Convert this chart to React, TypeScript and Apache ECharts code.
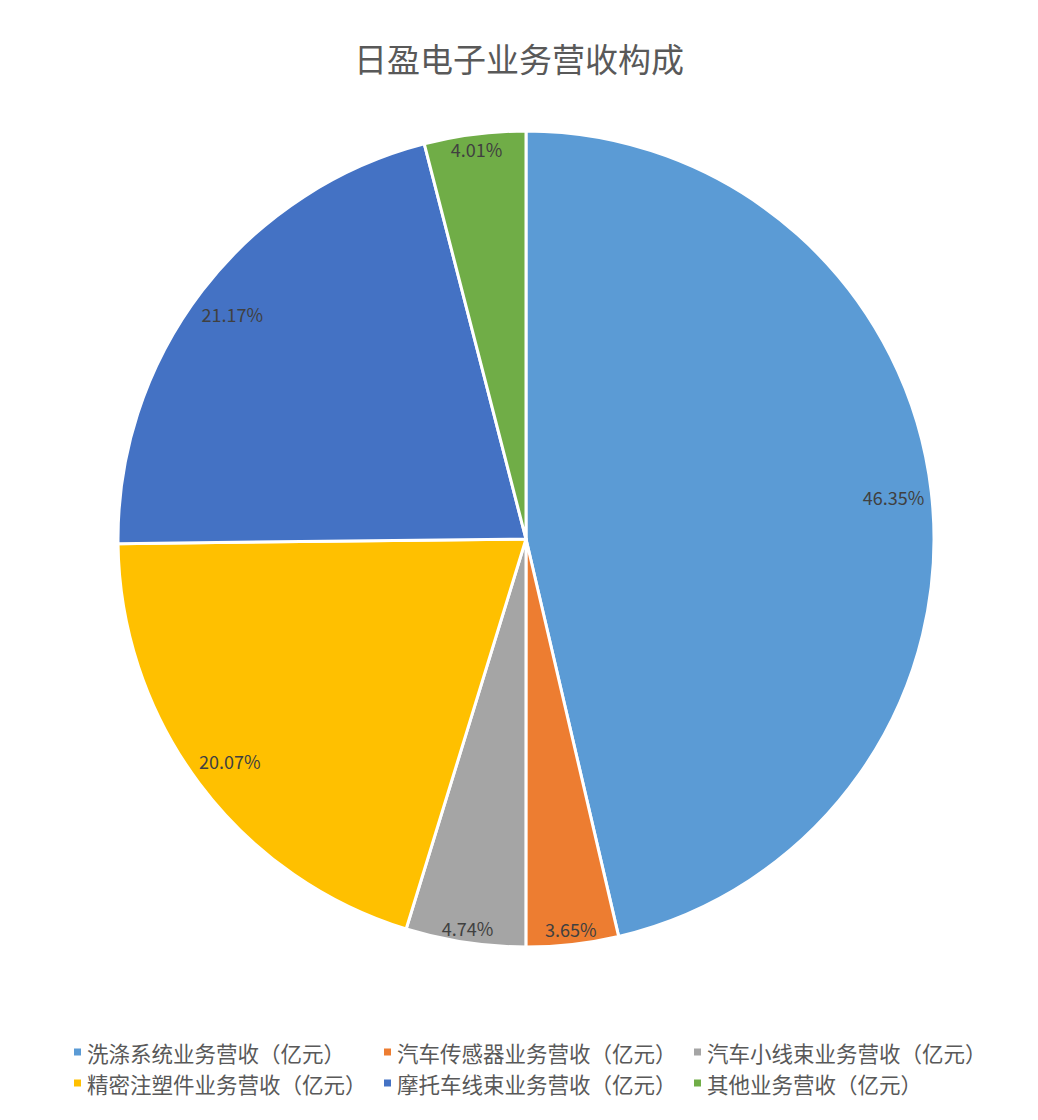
import React, { useEffect, useRef } from "react";
import * as echarts from "echarts";

const TITLE = "日盈电子业务营收构成";
const categories = [
  "洗涤系统业务营收（亿元）",
  "汽车传感器业务营收（亿元）",
  "汽车小线束业务营收（亿元）",
  "精密注塑件业务营收（亿元）",
  "摩托车线束业务营收（亿元）",
  "其他业务营收（亿元）",
];
const shares = [46.35, 3.65, 4.74, 20.07, 21.17, 4.01];
const colors = ["#5B9BD5", "#ED7D31", "#A5A5A5", "#FFC000", "#4472C4", "#70AD47"];

const FONT = '"Noto Sans CJK SC", "Noto Sans", sans-serif';

export default function App() {
  const ref = useRef<HTMLDivElement>(null);
  useEffect(() => {
    if (!ref.current) return;
    const chart = echarts.init(ref.current, undefined, { renderer: "svg" });
    const center = [526, 539];
    const R = 408;
    const mainData = categories.map((name, i) => ({
      name,
      value: shares[i],
      itemStyle: { color: colors[i] },
    }));
    const labelData = (big: boolean) =>
      categories.map((name, i) => ({
        name,
        value: shares[i],
        label: { show: big ? shares[i] >= 10 : shares[i] < 10 },
      }));
    const labelSeries = (r0: number, big: boolean) => ({
      type: "pie",
      center,
      radius: [r0, R],
      startAngle: 90,
      clockwise: true,
      silent: true,
      legendHoverLink: false,
      itemStyle: { color: "rgba(0,0,0,0)", borderWidth: 0 },
      emphasis: { disabled: true },
      labelLine: { show: false },
      label: {
        position: "inside",
        formatter: (p: any) => p.value.toFixed(2) + "%",
        fontSize: 18,
        color: "#404040",
        fontFamily: FONT,
      },
      data: labelData(big),
    });
    chart.setOption({
      animation: false,
      backgroundColor: "#ffffff",
      title: {
        text: TITLE,
        left: "center",
        top: 36,
        textStyle: {
          fontSize: 33,
          fontWeight: "normal",
          color: "#595959",
          fontFamily: FONT,
        },
      },
      legend: {
        data: categories,
        left: 67,
        top: 1036,
        width: 960,
        orient: "horizontal",
        icon: "rect",
        itemWidth: 9,
        itemHeight: 9,
        itemGap: 9,
        textStyle: {
          fontSize: 21.5,
          color: "#595959",
          fontFamily: FONT,
          width: 286,
          lineHeight: 22,
          padding: [0, 0, 0, 0],
        },
        selectedMode: false,
      },
      series: [
        {
          type: "pie",
          center,
          radius: [0, R],
          startAngle: 90,
          clockwise: true,
          itemStyle: { borderColor: "#ffffff", borderWidth: 3 },
          label: { show: false },
          labelLine: { show: false },
          emphasis: { disabled: true },
          data: mainData,
        },
        labelSeries(326, true),
        labelSeries(372, false),
      ],
    });
    return () => chart.dispose();
  }, []);
  return (
    <div
      ref={ref}
      style={{ position: "absolute", left: 0, top: 0, width: 1038, height: 1120 }}
    />
  );
}
